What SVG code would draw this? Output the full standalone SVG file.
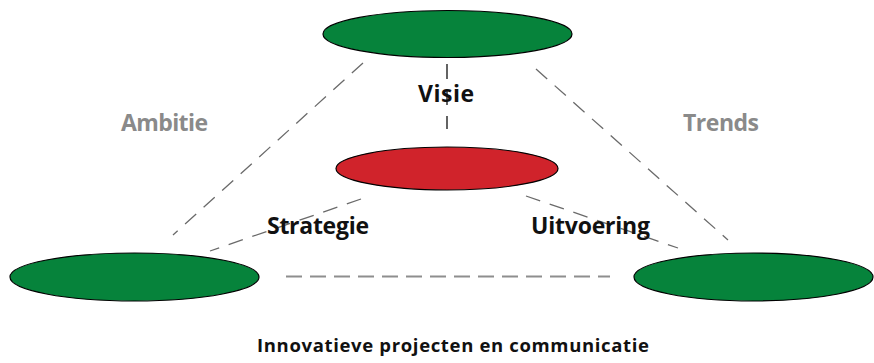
<svg xmlns="http://www.w3.org/2000/svg" width="874" height="363" viewBox="0 0 874 363">
<style>
.green{fill:#06833b;stroke:#000;stroke-width:1.2}
.red{fill:#d0232b;stroke:#000;stroke-width:1.2}
.dash{stroke:#6a6a6a;stroke-width:1.3;stroke-dasharray:15 10;fill:none}
.lbl{font-family:"Open Sans","DejaVu Sans",sans-serif;font-weight:bold;font-size:23px;fill:#111}
.side{fill:#8a8a8a}
.cap{font-size:18.5px}
</style>
<rect width="874" height="363" fill="#fff"/>
<g id="connectors">
<line class="dash" x1="363" y1="63" x2="173" y2="235"/>
<line class="dash" x1="536" y1="69" x2="728" y2="240"/>
<line class="dash" x1="361" y1="199" x2="210" y2="251"/>
<line class="dash" x1="526" y1="196" x2="678" y2="248"/>
<line class="dash" x1="286" y1="276.5" x2="610" y2="276.5" style="stroke:#8e8e8e;stroke-width:2;stroke-dasharray:16 8"/>
</g>
<g id="visie-node"><ellipse class="green" cx="447.5" cy="34" rx="124.5" ry="23.5"/></g>
<g id="strategie-core"><ellipse class="red" cx="447" cy="168.5" rx="111" ry="21.5"/></g>
<g id="ambitie-node"><ellipse class="green" cx="134.5" cy="277" rx="124.5" ry="24"/></g>
<g id="trends-node"><ellipse class="green" cx="753.5" cy="277" rx="119.5" ry="24"/></g>
<g id="labels">
<text class="lbl side" x="121" y="131" textLength="87">Ambitie</text>
<text class="lbl side" x="683" y="131" textLength="76">Trends</text>
<text class="lbl" x="418" y="102" textLength="56">Visie</text>
<text class="lbl" x="267" y="234" textLength="102">Strategie</text>
<text class="lbl" x="531" y="234" textLength="119">Uitvoering</text>
<text class="lbl cap" x="257" y="352" textLength="392">Innovatieve projecten en communicatie</text>
</g>
<line class="dash" x1="447" y1="64" x2="447" y2="129" style="stroke:#111;stroke-dasharray:15 11"/>
</svg>
